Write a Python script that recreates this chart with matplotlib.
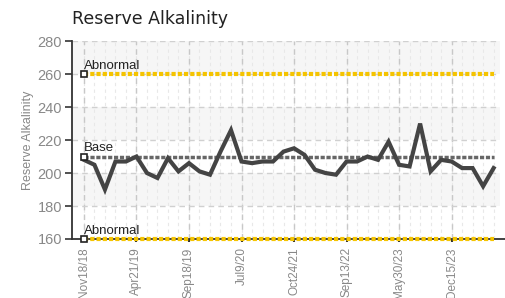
import matplotlib.pyplot as plt
import numpy as np

values = [208, 205, 190, 207, 207, 210, 200, 197, 209, 201,
          206, 201, 199, 213, 226, 207, 206, 207, 207, 213,
          215, 211, 202, 200, 199, 207, 207, 210, 208, 219,
          205, 204, 230, 201, 208, 207, 203, 203, 192, 203]
tick_labels = ["Nov18/18", "Apr21/19", "Sep18/19", "Jul9/20",
               "Oct24/21", "Sep13/22", "May30/23", "Dec15/23"]
tick_idx = [0, 5, 10, 15, 20, 25, 30, 35]
base = 210
abnormal_hi = 260
abnormal_lo = 160

fnt = 'Liberation Sans'

fig = plt.figure(figsize=(5.06, 2.98), dpi=100)
ax = fig.add_axes([0.142, 0.198, 0.846, 0.664])

x = np.arange(len(values))
n = len(values)

# alternating light bands
for lo in [260, 220, 180]:
    ax.axhspan(lo, lo + 20, color='#f6f6f6', zorder=0, lw=0)

# minor vertical grid at each point
for i in x:
    ax.axvline(i, color='#e8e8e8', lw=0.8, ls=(0, (3, 3)), zorder=0.5)
# major grid
for i in tick_idx:
    ax.axvline(i, color='#c8c8c8', lw=1, ls=(0, (4, 3)), zorder=1)
for yv in range(160, 281, 20):
    ax.axhline(yv, color='#d0d0d0', lw=1, ls=(0, (4, 3)), zorder=1)

# reference lines
ax.plot([0, n - 1], [abnormal_hi] * 2, color='#f5c400', lw=3, ls=(0, (1, 0.5)), zorder=3)
ax.plot([0, n - 1], [abnormal_lo] * 2, color='#f5c400', lw=3, ls=(0, (1, 0.5)), zorder=3, clip_on=False)
ax.plot([0, n - 1], [base] * 2, color='#666666', lw=2.5, ls=(0, (1.2, 0.5)), zorder=3)
for yv in [abnormal_hi, base, abnormal_lo]:
    ax.plot([0], [yv], marker='s', ms=5, mfc='white', mec='#222222', mew=1.2, zorder=5, clip_on=False)
for yv, txt in [(abnormal_hi, "Abnormal"), (base, "Base"), (abnormal_lo, "Abnormal")]:
    ax.text(0.0, yv + 1.5, txt, family=fnt, fontsize=9.5, color='#222222', va='bottom', zorder=6)

# data
ax.plot(x, values, color='#444444', lw=3, solid_joinstyle='miter', zorder=4)

ax.set_xlim(-1.15, 39.6)
ax.set_ylim(160, 280)
ax.set_yticks(range(160, 281, 20))
ax.set_xticks(tick_idx)
ax.set_xticklabels(tick_labels, rotation=90, family=fnt, fontsize=8.5, color='#888888')
for lab in ax.get_yticklabels():
    lab.set_family(fnt)
    lab.set_fontsize(10.5)
    lab.set_color('#888888')
ax.tick_params(axis='y', length=5, width=1.2, color='#333333', pad=2)
ax.tick_params(axis='x', length=2, width=1.5, color='#333333', pad=4)

for s in ['top', 'right']:
    ax.spines[s].set_visible(False)
ax.spines['left'].set_color('#333333')
ax.spines['left'].set_linewidth(1.3)
ax.spines['bottom'].set_visible(False)
ax.plot([-1.15, 40.2], [160, 160], color='#333333', lw=1.3, zorder=2, clip_on=False)

ax.set_ylabel("Reserve Alkalinity", family=fnt, fontsize=9, color='#888888')
ax.yaxis.set_label_coords(-0.088, 0.5)
fig.text(0.142, 0.935, "Reserve Alkalinity", fontsize=12.5, color='#222222', ha='left', va='center')

fig.savefig("out.png", dpi=100)
